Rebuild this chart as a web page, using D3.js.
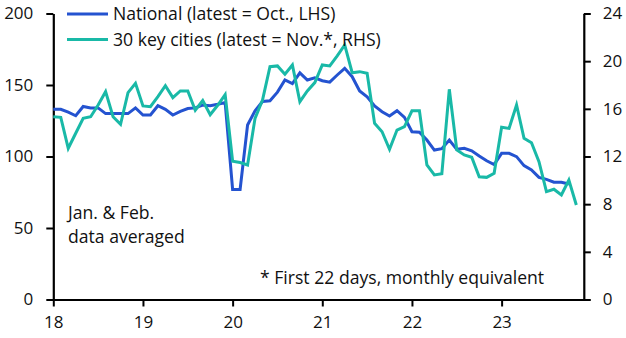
<!DOCTYPE html>
<html>
<head>
<meta charset="utf-8">
<script src="https://cdn.jsdelivr.net/npm/d3@7"></script>
<style>
  html, body { margin: 0; padding: 0; background: #fff; }
  svg { display: block; }
  text { font-family: "Open Sans", "Noto Sans", sans-serif; fill: #111; }
</style>
</head>
<body>
<svg id="chart" width="626" height="338"></svg>
<script>
// ---- Data (monthly, starting Jan 2018) ----
const startYear = 18;
const nationalValues = [133,133,131,128.5,135,134,134,130,130,130,130,134,
  129,129,135.5,133,129,131.5,133.5,134,136,135.5,136.5,137.7,
  77,77,122,132,138.5,139,145,153.5,151,158.5,153.5,155,
  153,152,157,161.7,155.8,145.8,141.8,135.3,131.3,128.3,132,127.4,
  117.3,117,111.5,104.5,105.5,111.5,105,105.7,104,100.3,97,94.3,
  102.2,102.2,99.9,93.6,90.6,85.4,84,82,82,80.8];
const citiesValues = [15.34,15.29,12.69,13.95,15.2,15.34,16.32,17.44,15.34,14.7,17.36,18.14,
  16.24,16.18,17.02,17.94,16.94,17.5,17.5,15.88,16.7,15.5,16.3,17.2,
  11.6,11.5,11.29,15.2,16.74,19.54,19.6,18.9,19.68,16.6,17.5,18.2,
  19.68,19.6,20.45,21.36,19.03,19.12,18.98,14.78,14.08,12.6,14.22,14.5,
  15.84,15.84,11.29,10.45,10.55,17.64,12.55,12.13,11.93,10.3,10.25,10.59,
  14.45,14.36,16.32,13.53,13.16,11.56,9.05,9.25,8.77,10.03,7.93];
const xTickValues = [18,19,20,21,22,23];
const leftTickValues = [0,50,100,150,200];
const rightTickValues = [0,4,8,12,16,20,24];
const seriesNames = ["National (latest = Oct., LHS)", "30 key cities (latest = Nov.*, RHS)"];
const noteLines = ["Jan. & Feb.", "data averaged"];
const footnote = "* First 22 days, monthly equivalent";

const colors = { national: "#2453d0", cities: "#19b9a7" };

const svg = d3.select("#chart");
const x = d3.scaleLinear().domain([18, 18 + 71/12]).range([53.3, 583.8]);
const yL = d3.scaleLinear().domain([0, 200]).range([299.5, 13.5]);
const yR = d3.scaleLinear().domain([0, 24]).range([299.5, 13.5]);

const fs = 17;
const fsText = 17.6;

// Axes
const gL = svg.append("g").attr("transform", `translate(${x.range()[0]},0)`)
  .call(d3.axisLeft(yL).tickValues(leftTickValues).tickSize(7).tickSizeOuter(0).tickPadding(13));
const gR = svg.append("g").attr("transform", `translate(${x.range()[1]},0)`)
  .call(d3.axisRight(yR).tickValues(rightTickValues).tickSize(7).tickSizeOuter(0).tickPadding(12));
const gB = svg.append("g").attr("transform", `translate(0,${yL(0)})`)
  .call(d3.axisBottom(x).tickValues(xTickValues).tickFormat(d3.format("d")).tickSize(7).tickSizeOuter(0).tickPadding(9));

[gL, gR, gB].forEach(g => {
  g.select(".domain").attr("stroke", "#000").attr("stroke-width", 2.2);
  g.selectAll(".tick line").attr("stroke", "#000").attr("stroke-width", 2);
  g.selectAll(".tick text").attr("font-size", fs).attr("fill", "#111")
    .style("font-family", '"Open Sans", "Noto Sans", sans-serif');
});

// Lines
const lineL = d3.line().x((d, i) => x(startYear + i/12)).y(d => yL(d));
const lineR = d3.line().x((d, i) => x(startYear + i/12)).y(d => yR(d));

svg.append("path").datum(nationalValues)
  .attr("d", lineL).attr("fill", "none").attr("stroke", colors.national).attr("stroke-width", 3);
svg.append("path").datum(citiesValues)
  .attr("d", lineR).attr("fill", "none").attr("stroke", colors.cities).attr("stroke-width", 3);

// Legend
const legend = [
  { name: seriesNames[0], color: colors.national, y: 14 },
  { name: seriesNames[1], color: colors.cities, y: 39.5 }
];
legend.forEach(l => {
  svg.append("line").attr("x1", 67).attr("x2", 108).attr("y1", l.y).attr("y2", l.y)
    .attr("stroke", l.color).attr("stroke-width", 3);
  svg.append("text").attr("x", 113).attr("y", l.y + 6).attr("font-size", fsText).text(l.name);
});

// Notes
svg.append("text").attr("x", 68).attr("y", 219).attr("font-size", fsText).text(noteLines[0]);
svg.append("text").attr("x", 68).attr("y", 243).attr("font-size", fsText).text(noteLines[1]);
svg.append("text").attr("x", 260).attr("y", 284).attr("font-size", fsText).text(footnote);
</script>
</body>
</html>
